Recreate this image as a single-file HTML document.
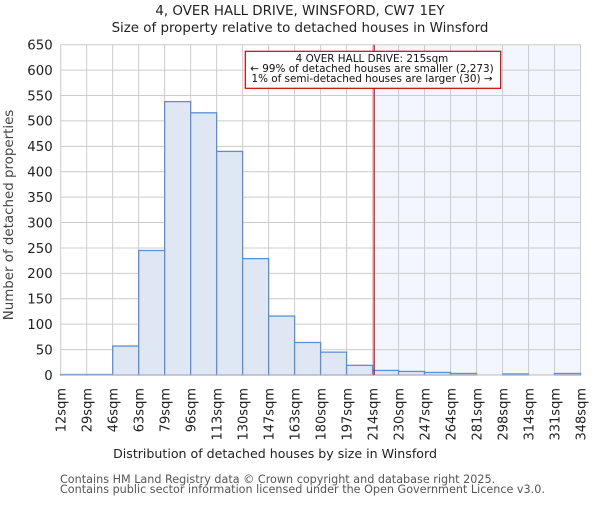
<!DOCTYPE html>
<html><head><meta charset="utf-8"><style>
body{margin:0;background:#fff}
svg{font-family:"DejaVu Sans","Liberation Sans",sans-serif}
</style></head><body>
<svg id="c" width="600" height="500" viewBox="0 0 600 500">
<text x="300" y="15" text-anchor="middle" font-size="13.4" fill="#222">4, OVER HALL DRIVE, WINSFORD, CW7 1EY</text>
<text x="300" y="32" text-anchor="middle" font-size="13.4" fill="#222">Size of property relative to detached houses in Winsford</text>
<g id="plot"></g>
<text x="275" y="458" text-anchor="middle" font-size="12.6" fill="#222">Distribution of detached houses by size in Winsford</text>
<text transform="translate(13,215) rotate(-90)" text-anchor="middle" font-size="13.4" fill="#444">Number of detached properties</text>
<text x="60" y="483" font-size="11.2" fill="#555">Contains HM Land Registry data © Crown copyright and database right 2025.</text>
<text x="60" y="493" font-size="11.2" fill="#555">Contains public sector information licensed under the Open Government Licence v3.0.</text>
</svg>
<script>
const edgeLabels=["12sqm","29sqm","46sqm","63sqm","79sqm","96sqm","113sqm","130sqm","147sqm","163sqm","180sqm","197sqm","214sqm","230sqm","247sqm","264sqm","281sqm","298sqm","314sqm","331sqm","348sqm"];
const counts=[1,1,57,245,538,516,440,229,116,64,45,19,9,7,5,3,0,2,0,3];
const yTicks=[0,50,100,150,200,250,300,350,400,450,500,550,600,650];
const markerBin=12.06;
const NS="http://www.w3.org/2000/svg";
const X0=60.7,X1=580.5,Y0=375,Y1=44.7,YMAX=650;
const nb=counts.length;
const xs=i=>X0+(X1-X0)*i/nb;
const ys=v=>Y0-(Y0-Y1)*v/YMAX;
const g=document.getElementById('plot');
function el(t,a){const e=document.createElementNS(NS,t);for(const k in a)e.setAttribute(k,a[k]);g.appendChild(e);return e;}
const mx=xs(markerBin);
let r=el('rect',{x:mx,y:Y1,width:X1-mx,height:Y0-Y1,fill:'#f3f6fd'});


yTicks.forEach(t=>{
 let l=el('line',{x1:X0,x2:X1,y1:ys(t),y2:ys(t),stroke:'#cccccc','stroke-width':1});
 
 
 let tx=el('text',{x:X0-8,y:ys(t)+4.8,'text-anchor':'end','font-size':13.3,fill:'#222'});
 tx.textContent=t;
 
 
});
edgeLabels.forEach((s,i)=>{
 let l=el('line',{x1:xs(i),x2:xs(i),y1:Y1,y2:Y0,stroke:'#cccccc','stroke-width':1});
 
 
 let tx=el('text',{transform:`translate(${xs(i)+4.8},388) rotate(-90)`,'text-anchor':'end','font-size':13,fill:'#222'});
 tx.textContent=s;
 
 
});
counts.forEach((v,i)=>{
 if(v<=0)return;
 let b=el('rect',{x:xs(i),y:ys(v),width:xs(i+1)-xs(i),height:Y0-ys(v),fill:'#dfe7f4',stroke:'#5b8fd6','stroke-width':1.3});
 
 
});
let ax=el('line',{x1:X0,x2:X1,y1:Y0,y2:Y0,stroke:'#bbbbbb','stroke-width':1});


let ml=el('line',{x1:mx,x2:mx,y1:Y1,y2:Y0,stroke:'#cc0000','stroke-width':1.2});


let ab=el('rect',{x:245.3,y:51.3,width:255.4,height:37,fill:'#fff',stroke:'#cc0000','stroke-width':1.2});


["4 OVER HALL DRIVE: 215sqm","← 99% of detached houses are smaller (2,273)","1% of semi-detached houses are larger (30) →"].forEach((s,i)=>{
 let t=el('text',{x:372,y:62+i*10,'text-anchor':'middle','font-size':10.4,fill:'#111'});
 t.textContent=s;
 
 
});
</script>
</body></html>
